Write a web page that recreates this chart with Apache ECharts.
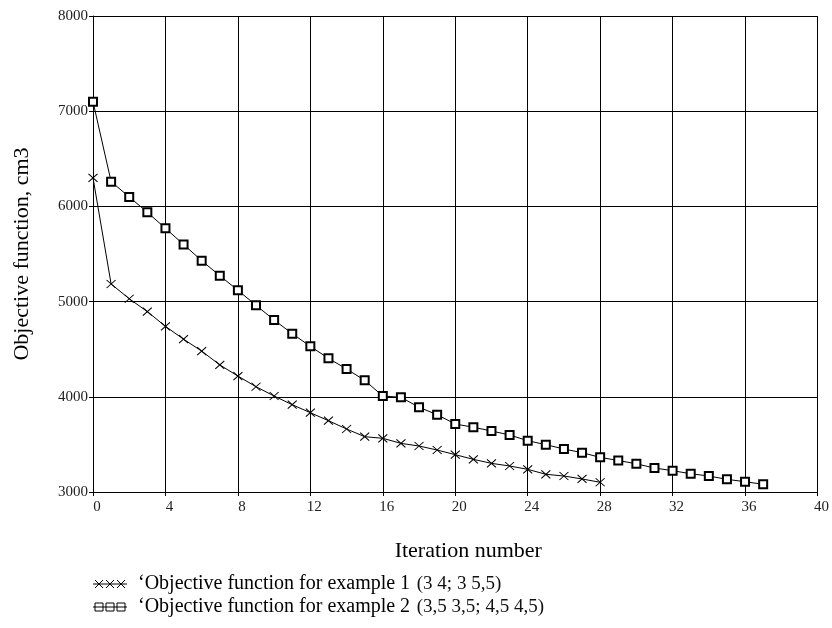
<!DOCTYPE html>
<html>
<head>
<meta charset="utf-8">
<script src="https://cdn.jsdelivr.net/npm/echarts@6/dist/echarts.min.js"></script>
<style>
html,body{margin:0;padding:0;background:#fff;}
#chart{width:832px;height:628px;}
</style>
</head>
<body>
<div id="chart"></div>
<script>
// ---- data ----
const xTicks = [0,4,8,12,16,20,24,28,32,36,40];
const yTicks = [3000,4000,5000,6000,7000,8000];
const iter1 = [0,1,2,3,4,5,6,7,8,9,10,11,12,13,14,15,16,17,18,19,20,21,22,23,24,25,26,27,28];
const example1 = [6300,5185,5030,4895,4740,4605,4480,4335,4218,4106,4008,3917,3833,3749,3662,3581,3564,3511,3483,3441,3392,3343,3301,3273,3238,3186,3168,3137,3102];
const iter2 = [0,1,2,3,4,5,6,7,8,9,10,11,12,13,14,15,16,17,18,19,20,21,22,23,24,25,26,27,28,29,30,31,32,33,34,35,36,37];
const example2 = [7100,6260,6100,5938,5770,5600,5430,5272,5119,4961,4807,4663,4530,4404,4292,4173,4008,3995,3890,3812,3714,3680,3641,3599,3539,3497,3452,3413,3364,3331,3296,3252,3224,3192,3168,3133,3108,3081];
const xName = 'Iteration number';
const yName = 'Objective function, cm3';
const legend1 = ['\u2018Objective function for example 1', '(3 4; 3 5,5)'];
const legend2 = ['\u2018Objective function for example 2', '(3,5 3,5; 4,5 4,5)'];

const FONT = '"Liberation Serif", "Times New Roman", serif';
const chart = echarts.init(document.getElementById('chart'), null, {renderer:'canvas'});

const crossPath = 'path://M0,0L10,10M10,0L0,10';

function legendIcon(y, kind){
  const xs = [99,110,121];
  const children = [{type:'line', shape:{x1:93,y1:y,x2:127,y2:y}, style:{stroke:'#000',lineWidth:1}}];
  xs.forEach(x=>{
    if(kind==='cross'){
      children.push({type:'line', shape:{x1:x-4,y1:y-4,x2:x+4,y2:y+4}, style:{stroke:'#000',lineWidth:1}});
      children.push({type:'line', shape:{x1:x-4,y1:y+4,x2:x+4,y2:y-4}, style:{stroke:'#000',lineWidth:1}});
    } else {
      children.push({type:'rect', shape:{x:x-4,y:y-4,width:8,height:8}, style:{stroke:'#000',fill:'none',lineWidth:1}});
    }
  });
  return {type:'group', children};
}

function legendText(y, parts){
  return {
    type:'text', left:138, top:y-10,
    style:{
      text:'{a|'+parts[0]+'}  {b|'+parts[1]+'}',
      rich:{
        a:{fontFamily:FONT, fontSize:20, fill:'#000'},
        b:{fontFamily:FONT, fontSize:19, fill:'#111'}
      },
      fill:'#000'
    }
  };
}

const option = {
  backgroundColor:'#fff',
  animation:false,
  grid:{left:93, right:10, top:16, bottom:136, containLabel:false},
  xAxis:{
    type:'value', min:0, max:40, interval:4,
    name:xName, nameLocation:'middle', nameGap:48,
    nameTextStyle:{fontFamily:FONT, fontSize:22, color:'#000', padding:[0,0,0,26]},
    axisLine:{show:true, lineStyle:{color:'#000', width:1}},
    axisTick:{show:true, length:4, lineStyle:{color:'#000'}},
    axisLabel:{fontFamily:FONT, fontSize:15, color:'#222', margin:8, padding:[0,0,0,8]},
    splitLine:{show:true, lineStyle:{color:'#000', width:1}}
  },
  yAxis:{
    type:'value', min:3000, max:8000, interval:1000,
    name:yName, nameLocation:'middle', nameGap:60, nameRotate:90,
    nameTextStyle:{fontFamily:FONT, fontSize:22, color:'#000'},
    axisLine:{show:true, lineStyle:{color:'#000', width:1}},
    axisTick:{show:true, length:4, lineStyle:{color:'#000'}},
    axisLabel:{fontFamily:FONT, fontSize:15, color:'#222', margin:5, formatter:v=>String(v)},
    splitLine:{show:true, lineStyle:{color:'#000', width:1}}
  },
  series:[
    {
      name:'example 1', type:'line',
      data: iter1.map((x,i)=>[x, example1[i]]),
      symbol:crossPath, symbolSize:[9,8],
      lineStyle:{color:'#000', width:1},
      itemStyle:{color:'transparent', borderColor:'#000', borderWidth:1},
      z:5
    },
    {
      name:'example 2', type:'line',
      data: iter2.map((x,i)=>[x, example2[i]]),
      symbol:'emptyRect', symbolSize:8,
      lineStyle:{color:'#000', width:1},
      itemStyle:{color:'#000', borderColor:'#000', borderWidth:1},
      z:5
    }
  ],
  graphic:[
    legendIcon(584,'cross'),
    legendText(584, legend1),
    legendIcon(607,'square'),
    legendText(607, legend2)
  ]
};
chart.setOption(option);
</script>
</body>
</html>
